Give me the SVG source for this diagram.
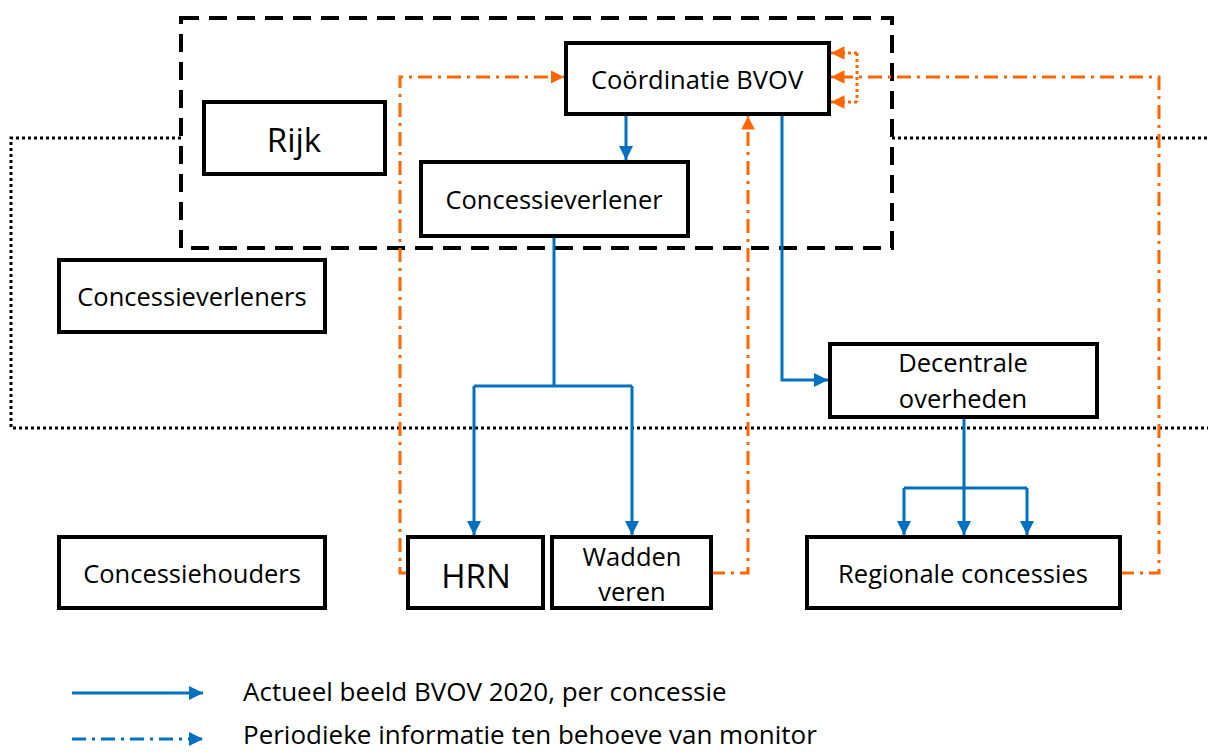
<svg xmlns="http://www.w3.org/2000/svg" width="1208" height="752" viewBox="0 0 1208 752">
<style>
.box{fill:#fff;stroke:#000;stroke-width:4}
.t{font-family:"Open Sans","Liberation Sans",sans-serif;font-size:25.5px;fill:#000;text-anchor:middle;dominant-baseline:central}
.big{font-size:33px}
.blue{fill:none;stroke:#0070C0;stroke-width:3}
.org{fill:none;stroke:#FF6600;stroke-width:3;stroke-dasharray:14 6 3 6}
.orgs{fill:none;stroke:#FF6600;stroke-width:3;stroke-dasharray:3 3}
.lt{font-family:"Open Sans","Liberation Sans",sans-serif;font-size:26px;fill:#000}
</style>
<defs>
<marker id="ab" viewBox="0 0 10 10" refX="10" refY="5" markerWidth="4.8" markerHeight="4.8" orient="auto" markerUnits="strokeWidth"><path d="M0,0L10,5L0,10z" fill="#0070C0"/></marker>
<marker id="ao" viewBox="0 0 10 10" refX="10" refY="5" markerWidth="4.5" markerHeight="4.5" orient="auto" markerUnits="strokeWidth"><path d="M0,0L10,5L0,10z" fill="#FF6600"/></marker>
</defs>
<g id="regions">
<path d="M181,138H11V428H1208" fill="none" stroke="#000" stroke-width="3" stroke-dasharray="3 3"/>
<path d="M892,138H1208" fill="none" stroke="#000" stroke-width="3" stroke-dasharray="3 3"/>
<rect x="181" y="18" width="711" height="230" fill="none" stroke="#000" stroke-width="4" stroke-dasharray="18 10"/>
</g>
<g id="connectors">
<path class="blue" d="M626,114V160" marker-end="url(#ab)"/>
<path class="blue" d="M782,114V380H828" marker-end="url(#ab)"/>
<path class="blue" d="M554,236V386"/>
<path class="blue" d="M474,386H632"/>
<path class="blue" d="M474,386V535" marker-end="url(#ab)"/>
<path class="blue" d="M632,386V535" marker-end="url(#ab)"/>
<path class="blue" d="M964,417V535" marker-end="url(#ab)"/>
<path class="blue" d="M904,488H1027"/>
<path class="blue" d="M904,488V535" marker-end="url(#ab)"/>
<path class="blue" d="M1027,488V535" marker-end="url(#ab)"/>
<path class="org" d="M408,573H400V77H564" marker-end="url(#ao)"/>
<path class="org" d="M711,573H748V116" marker-end="url(#ao)"/>
<path class="org" d="M1120,573H1159V77H831" marker-end="url(#ao)"/>
<path class="orgs" d="M857,53V102"/>
<path class="orgs" d="M857,53H831" marker-end="url(#ao)"/>
<path class="orgs" d="M857,102H831" marker-end="url(#ao)"/>
</g>
<g id="coordinatie"><rect class="box" x="566" y="43" width="263" height="71"/><text class="t" x="697" y="79">Coördinatie BVOV</text></g>
<g id="rijk"><rect class="box" x="204" y="102" width="181" height="72"/><text class="t big" x="294" y="139">Rijk</text></g>
<g id="concessieverlener"><rect class="box" x="421" y="162" width="267" height="74"/><text class="t" x="554" y="199">Concessieverlener</text></g>
<g id="concessieverleners"><rect class="box" x="59" y="260" width="266" height="72"/><text class="t" x="192" y="296">Concessieverleners</text></g>
<g id="decentrale"><rect class="box" x="830" y="344" width="267" height="73"/><text class="t" x="963" y="362">Decentrale</text><text class="t" x="963" y="398">overheden</text></g>
<g id="concessiehouders"><rect class="box" x="59" y="537" width="266" height="71"/><text class="t" x="192" y="573">Concessiehouders</text></g>
<g id="hrn"><rect class="box" x="408" y="537" width="135" height="71"/><text class="t big" x="476" y="575">HRN</text></g>
<g id="wadden"><rect class="box" x="552" y="537" width="159" height="71"/><text class="t" x="632" y="556">Wadden</text><text class="t" x="632" y="591">veren</text></g>
<g id="regionale"><rect class="box" x="807" y="537" width="313" height="71"/><text class="t" x="963" y="573">Regionale concessies</text></g>
<g id="legend">
<path class="blue" d="M72,693H203" marker-end="url(#ab)"/>
<path d="M72,739H203" fill="none" stroke="#0070C0" stroke-width="3" stroke-dasharray="14 6 3 6" marker-end="url(#ab)"/>
<text class="lt" x="243" y="701">Actueel beeld BVOV 2020, per concessie</text>
<text class="lt" x="243" y="744">Periodieke informatie ten behoeve van monitor</text>
</g>
</svg>
